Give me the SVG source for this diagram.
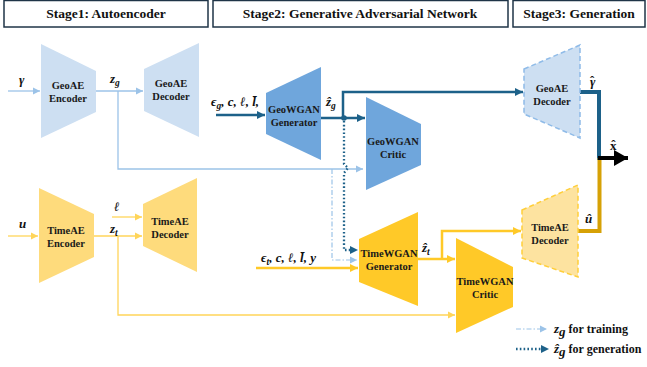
<svg xmlns="http://www.w3.org/2000/svg" width="647" height="367" viewBox="0 0 647 367">
  <style>
    .hdr { fill: #ffffff; stroke: #1f3447; stroke-width: 1.5; }
    .hdrt { font-family: "Liberation Serif", "Times New Roman", serif; font-weight: bold; font-size: 13.5px; fill: #111; text-anchor: middle; }
    .lbl { font-family: "Liberation Serif", "Times New Roman", serif; font-weight: bold; font-size: 10.5px; fill: #1a1a1a; text-anchor: middle; }
    .math { font-family: "Liberation Serif", "DejaVu Serif", serif; font-weight: bold; font-style: italic; font-size: 13px; fill: #111; }
    .up { font-style: normal; }
    .leg { font-family: "Liberation Serif", "Times New Roman", serif; font-weight: bold; font-size: 12px; fill: #111; }
    .geo-ae { fill: #cddff2; }
    .geo-gan { fill: #6fa6dc; }
    .time-ae { fill: #fedb7c; }
    .time-gan { fill: #ffc928; }
    .geo-ae-d { fill: #cddff2; stroke: #8fbbe8; stroke-width: 1.5; stroke-dasharray: 5 3; }
    .time-ae-d { fill: #fde3a0; stroke: #ffcf3a; stroke-width: 1.5; stroke-dasharray: 5 3; }
    .c-lb { fill: none; stroke: #9cc3e8; stroke-width: 1.3; }
    .c-ye { fill: none; stroke: #ffd55a; stroke-width: 1.3; }
    .c-teal { fill: none; stroke: #1d6189; stroke-width: 2.5; }
    .c-gold { fill: none; stroke: #ffc928; stroke-width: 2.5; }
    .c-dot { fill: none; stroke: #1d6189; stroke-width: 2.3; stroke-dasharray: 1.6 2.2; }
    .c-dd { fill: none; stroke: #9cc3e8; stroke-width: 1.2; stroke-dasharray: 5 2 1.5 2; }
  </style>
  <defs>
    <marker id="a-lb" markerUnits="userSpaceOnUse" markerWidth="8" markerHeight="8" refX="7" refY="4" orient="auto">
      <path d="M0,0.5 L7,4 L0,7.5 Z" fill="#9cc3e8"/>
    </marker>
    <marker id="a-ye" markerUnits="userSpaceOnUse" markerWidth="8" markerHeight="8" refX="7" refY="4" orient="auto">
      <path d="M0,0.5 L7,4 L0,7.5 Z" fill="#ffd55a"/>
    </marker>
    <marker id="a-teal" markerUnits="userSpaceOnUse" markerWidth="9" markerHeight="9" refX="8" refY="4.5" orient="auto">
      <path d="M0,0.5 L8,4.5 L0,8.5 Z" fill="#1d6189"/>
    </marker>
    <marker id="a-gold" markerUnits="userSpaceOnUse" markerWidth="9" markerHeight="9" refX="8" refY="4.5" orient="auto">
      <path d="M0,0.5 L8,4.5 L0,8.5 Z" fill="#ffc928"/>
    </marker>
    <marker id="a-blk" markerUnits="userSpaceOnUse" markerWidth="16" markerHeight="16" refX="14" refY="8" orient="auto">
      <path d="M0,0 L14,8 L0,16 Z" fill="#000"/>
    </marker>
  </defs>

  <!-- stage headers -->
  <g id="stage1">
    <rect class="hdr" x="4" y="0.5" width="204" height="26.5"/>
    <text class="hdrt" x="106" y="18">Stage1: Autoencoder</text>
  </g>
  <g id="stage2">
    <rect class="hdr" x="213" y="0.5" width="295" height="26.5"/>
    <text class="hdrt" x="360" y="18">Stage2: Generative Adversarial Network</text>
  </g>
  <g id="stage3">
    <rect class="hdr" x="513" y="0.5" width="132" height="26.5"/>
    <text class="hdrt" x="579" y="18">Stage3: Generation</text>
  </g>

  <!-- connectors -->
  <g id="connectors">
    <!-- geometry autoencoder -->
    <line class="c-lb" x1="8" y1="91" x2="40" y2="91" marker-end="url(#a-lb)"/>
    <line class="c-lb" x1="96" y1="91" x2="143" y2="91" marker-end="url(#a-lb)"/>
    <path class="c-lb" d="M118,91 V169 H363" marker-end="url(#a-lb)"/>
    <!-- z_g for training into TimeWGAN generator -->
    <path class="c-dd" d="M332,169 V260 H357" marker-end="url(#a-lb)"/>
    <!-- geometry GAN -->
    <line class="c-teal" x1="216" y1="115" x2="265" y2="115" marker-end="url(#a-teal)"/>
    <line class="c-teal" x1="321" y1="118" x2="365" y2="118" marker-end="url(#a-teal)"/>
    <path class="c-teal" d="M343,118 V92 H523" marker-end="url(#a-teal)"/>
    <circle cx="344" cy="118" r="2.8" fill="#1d6189"/>
    <!-- ẑ_g for generation into TimeWGAN generator -->
    <path class="c-dot" d="M344,121 V164 L348,168 L344,173 V250 H352"/>
    <path d="M350,246 L358,250 L350,254 Z" fill="#1d6189"/>
    <!-- time autoencoder -->
    <line class="c-ye" x1="8" y1="236" x2="38" y2="236" marker-end="url(#a-ye)"/>
    <line class="c-ye" x1="94" y1="236" x2="142" y2="236" marker-end="url(#a-ye)"/>
    <line class="c-ye" x1="112" y1="217" x2="142" y2="217" marker-end="url(#a-ye)"/>
    <path class="c-ye" d="M118,236 V315 H455" marker-end="url(#a-ye)"/>
    <!-- time GAN -->
    <line class="c-gold" x1="256" y1="268" x2="358" y2="268" marker-end="url(#a-gold)"/>
    <line class="c-gold" x1="418" y1="259" x2="455" y2="259" marker-end="url(#a-gold)"/>
    <path class="c-gold" d="M442,259 V231 H521" marker-end="url(#a-gold)"/>
    <!-- stage 3 outputs -->
    <path d="M580,92 H599 V160" fill="none" stroke="#1d6189" stroke-width="4"/>
    <path d="M578,231 H599.5 V158" fill="none" stroke="#d6a106" stroke-width="4"/>
    <line x1="598" y1="158" x2="628" y2="158" stroke="#000" stroke-width="4" marker-end="url(#a-blk)"/>
  </g>

  <!-- Stage 1 nodes -->
  <g id="geoae-encoder">
    <polygon class="geo-ae" points="41,44 96,71 96,112 41,138"/>
    <text class="lbl" x="68" y="89">GeoAE</text>
    <text class="lbl" x="68" y="102">Encoder</text>
  </g>
  <g id="geoae-decoder">
    <polygon class="geo-ae" points="144,69 199,43 199,137 144,111"/>
    <text class="lbl" x="171" y="87">GeoAE</text>
    <text class="lbl" x="171" y="100">Decoder</text>
  </g>
  <g id="timeae-encoder">
    <polygon class="time-ae" points="39,188 94,214 94,257 39,283"/>
    <text class="lbl" x="66" y="234">TimeAE</text>
    <text class="lbl" x="66" y="247">Encoder</text>
  </g>
  <g id="timeae-decoder">
    <polygon class="time-ae" points="143,204 197,178 197,272 143,246"/>
    <text class="lbl" x="170" y="225">TimeAE</text>
    <text class="lbl" x="170" y="238">Decoder</text>
  </g>

  <!-- Stage 2 nodes -->
  <g id="geowgan-generator">
    <polygon class="geo-gan" points="266,93 321,67 321,160 266,134"/>
    <text class="lbl" x="294" y="113">GeoWGAN</text>
    <text class="lbl" x="294" y="126">Generator</text>
  </g>
  <g id="geowgan-critic">
    <polygon class="geo-gan" points="366,97 421,124 421,165 366,190"/>
    <text class="lbl" x="393" y="145">GeoWGAN</text>
    <text class="lbl" x="393" y="158">Critic</text>
  </g>
  <g id="timewgan-generator">
    <polygon class="time-gan" points="359,239 418,212 418,306 359,282"/>
    <text class="lbl" x="389" y="257">TimeWGAN</text>
    <text class="lbl" x="389" y="270">Generator</text>
  </g>
  <g id="timewgan-critic">
    <polygon class="time-gan" points="456,238 513,267 513,307 456,333"/>
    <text class="lbl" x="485" y="285">TimeWGAN</text>
    <text class="lbl" x="485" y="298">Critic</text>
  </g>

  <!-- Stage 3 nodes -->
  <g id="geoae-decoder-gen">
    <polygon class="geo-ae-d" points="524,69 580,45 580,138 524,114"/>
    <text class="lbl" x="552" y="92">GeoAE</text>
    <text class="lbl" x="552" y="105">Decoder</text>
  </g>
  <g id="timeae-decoder-gen">
    <polygon class="time-ae-d" points="522,210 578,185 578,277 522,258"/>
    <text class="lbl" x="550" y="231">TimeAE</text>
    <text class="lbl" x="550" y="244">Decoder</text>
  </g>

  <!-- variable labels -->
  <g id="labels">
    <text class="math" x="19" y="84">γ</text>
    <text class="math" x="110" y="83">z<tspan font-size="9.5" dy="3">g</tspan></text>
    <text class="math" x="211" y="106">ϵ<tspan font-size="9.5" dy="3">g</tspan><tspan dy="-3">, c, ℓ, l̄,</tspan></text>
    <text class="math" x="326" y="106">ẑ<tspan font-size="9.5" dy="3">g</tspan></text>
    <text class="math" x="19" y="228">u</text>
    <text class="math" x="114" y="211">ℓ</text>
    <text class="math" x="110" y="233">z<tspan font-size="9.5" dy="3">t</tspan></text>
    <text class="math" x="261" y="262">ϵ<tspan font-size="9.5" dy="3">t</tspan><tspan dy="-3">, c, ℓ, l̄, y</tspan></text>
    <text class="math" x="422" y="252">ẑ<tspan font-size="9.5" dy="3">t</tspan></text>
    <text class="math" x="590" y="86">γ<tspan class="up" dx="-5.3" dy="-1">ˆ</tspan></text>
    <text class="math" x="585" y="223">û</text>
    <text class="math up" x="610" y="150">x<tspan dx="-5.3" dy="-1">ˆ</tspan></text>
  </g>

  <!-- legend -->
  <g id="legend">
    <line class="c-dd" x1="516" y1="329" x2="547" y2="329" marker-end="url(#a-lb)"/>
    <text class="leg" x="554" y="333"><tspan class="math" font-size="13">z</tspan><tspan class="math" font-size="9.5" dy="3">g</tspan><tspan dy="-3"> for training</tspan></text>
    <line class="c-dot" x1="516" y1="349" x2="541" y2="349"/>
    <path d="M541,345 L549,349 L541,353 Z" fill="#1d6189"/>
    <text class="leg" x="554" y="353"><tspan class="math" font-size="13">ẑ</tspan><tspan class="math" font-size="9.5" dy="3">g</tspan><tspan dy="-3"> for generation</tspan></text>
  </g>
</svg>
